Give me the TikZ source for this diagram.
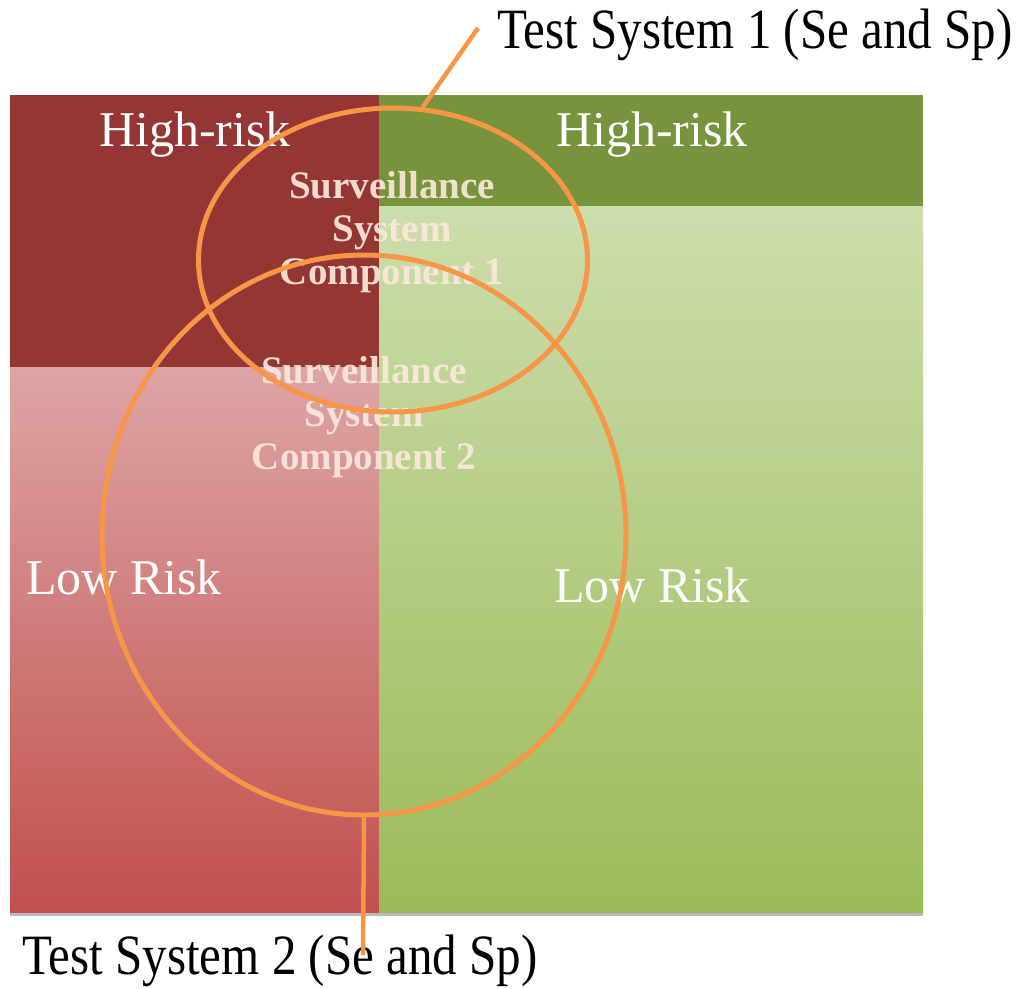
\documentclass[tikz,border=0pt]{standalone}
\usepackage{fontspec}
\setmainfont{Liberation Serif}
\usepackage{tikz}
\usetikzlibrary{positioning,shapes.geometric}

\definecolor{hired}{HTML}{943634}
\definecolor{lopink}{HTML}{DDA5A5}
\definecolor{lored}{HTML}{C0504D}
\definecolor{higreen}{HTML}{77933C}
\definecolor{lolime}{HTML}{CDDDAC}
\definecolor{logreen}{HTML}{9BBB59}
\definecolor{tsorange}{HTML}{F79646}
\definecolor{compcol}{HTML}{FBE8DA}

\begin{document}
\begin{tikzpicture}[x=1pt,y=-1pt]
  \tikzstyle{zone}=[text=white,font=\fontsize{50}{60}\selectfont]
  \tikzstyle{comp}=[text=compcol,text opacity=0.92,align=center,
                    font=\bfseries\fontsize{39}{43}\selectfont]
  \tikzstyle{tsys}=[ellipse,draw=tsorange,line width=5pt,inner sep=0pt]
  \tikzstyle{tlabel}=[font=\fontsize{57}{64}\selectfont,inner sep=0pt]
  \tikzstyle{lead}=[draw=tsorange,line width=4.5pt]

  \useasboundingbox (0,0) rectangle (1017,988);

  % risk panels
  \fill[hired] (10,95) rectangle (379,367);
  \shade[top color=lopink,bottom color=lored] (10,367) rectangle (379,913);
  \fill[higreen] (379,95) rectangle (923,206);
  \shade[top color=lolime,bottom color=logreen] (379,206) rectangle (923,913);
  \draw[gray!55,line width=2.5pt] (10,914.5) -- (923,914.5);

  \node[zone] (hl) at (195,135) {High-risk};
  \node[zone] (hr) at (652,135) {High-risk};
  \node[zone] (ll) at (124,577) {Low Risk};
  \node[zone] (lr) at (652,585) {Low Risk};

  \node[comp] (sc1) at (392,232) {Surveillance\\System\\Component 1};
  \node[comp] (sc2) at (364,417) {Surveillance\\System\\Component 2};

  % test systems
  \node[tsys,minimum width=389,minimum height=304] (ts1) at (393,260) {};
  \node[tsys,minimum width=524,minimum height=560] (ts2) at (364,535) {};

  \node[tlabel,anchor=base west] (lab1) at (497,48)
       {\scalebox{0.86}[1]{Test System 1 (Se and Sp)}};
  \node[tlabel,anchor=base west] (lab2) at (22,974)
       {\scalebox{0.86}[1]{Test System 2 (Se and Sp)}};

  \coordinate (c1) at (478,28);
  \coordinate (c2) at (363,955);
  \draw[lead] (ts1.79) -- (c1);
  \draw[lead] (ts2.south) -- (c2);
\end{tikzpicture}
\end{document}
